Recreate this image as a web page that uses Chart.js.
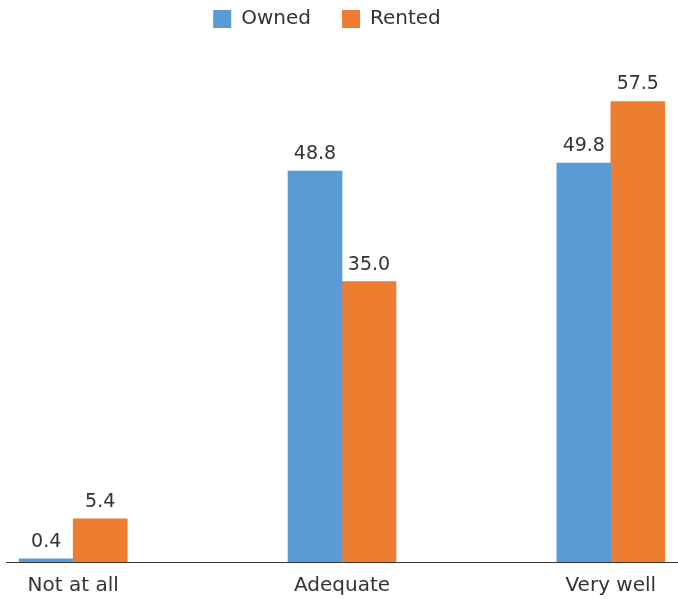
<!DOCTYPE html>
<html>
<head>
<meta charset="utf-8">
<script src="https://cdn.jsdelivr.net/npm/chart.js@4"></script>
<style>
  html, body { margin: 0; padding: 0; background: #fff; }
  #wrap { width: 678px; height: 599px; }
</style>
</head>
<body>
<div id="wrap"><canvas id="chart"></canvas></div>
<script>
// data
const categories = ["Not at all", "Adequate", "Very well"];
const owned = [0.4, 48.8, 49.8];
const rented = [5.4, 35.0, 57.5];

const blue = "#5B9BD5";
const orange = "#ED7D31";
const textColor = "#333333";
const fontFamily = "'DejaVu Sans', sans-serif";

// value labels above each bar
const valueLabels = {
  id: "valueLabels",
  afterDatasetsDraw(chart) {
    const ctx = chart.ctx;
    ctx.save();
    ctx.font = "19px " + fontFamily;
    ctx.fillStyle = textColor;
    ctx.textAlign = "center";
    ctx.textBaseline = "alphabetic";
    chart.data.datasets.forEach((ds, i) => {
      chart.getDatasetMeta(i).data.forEach((bar, j) => {
        ctx.fillText(ds.data[j].y.toFixed(1), bar.x, bar.y - 12);
      });
    });
    ctx.restore();
  }
};

// nudge the legend a bit left, like the original
const legendShift = {
  id: "legendShift",
  afterLayout(chart) {
    chart.legend.left -= 15;
    chart.legend.right -= 15;
  }
};

const ctx = document.getElementById("chart");

new Chart(ctx, {
  type: "bar",
  data: {
    datasets: [
      {
        label: "Owned",
        data: owned.map((v, i) => ({ x: i, y: v })),
        backgroundColor: blue,
        barThickness: 54,
      },
      {
        label: "Rented",
        data: rented.map((v, i) => ({ x: i, y: v })),
        backgroundColor: orange,
        barThickness: 54,
      }
    ]
  },
  options: {
    responsive: true,
    maintainAspectRatio: false,
    animation: false,
    layout: { padding: { left: 6, right: 0, top: -22, bottom: -11 } },
    scales: {
      x: {
        type: "linear",
        offset: false,
        min: -0.25,
        max: 2.25,
        grid: { display: false, drawTicks: false, tickLength: 0 },
        border: { display: true, color: "#333", width: 1 },
        afterBuildTicks: (scale) => {
          scale.ticks = categories.map((_, i) => ({ value: i }));
        },
        ticks: {
          padding: 12,
          color: textColor,
          font: { family: fontFamily, size: 20 },
          callback: (v) => categories[v],
        },
      },
      y: {
        display: false,
        min: 0,
        max: 65.3,
      },
    },
    plugins: {
      legend: {
        position: "top",
        labels: {
          boxWidth: 18,
          boxHeight: 18,
          padding: 31,
          color: textColor,
          font: { family: fontFamily, size: 20 },
        },
      },
      tooltip: { enabled: false },
    },
  },
  plugins: [valueLabels, legendShift],
});
</script>
</body>
</html>
